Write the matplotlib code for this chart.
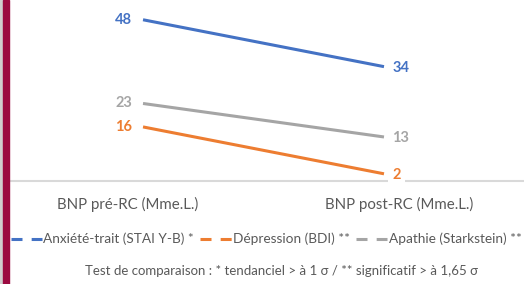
import matplotlib
matplotlib.use("Agg")
import matplotlib.pyplot as plt
from matplotlib.lines import Line2D
from matplotlib.patches import Rectangle
import matplotlib.transforms as mtransforms

plt.rcParams['font.family'] = ['Lato', 'DejaVu Sans']

# categories and series values
categories = ["BNP pré-RC (Mme.L.)", "BNP post-RC (Mme.L.)"]
anxiete = [48, 34]
depression = [16, 2]
apathie = [23, 13]
series_names = ["Anxiété-trait (STAI Y-B) *", "Dépression (BDI) **", "Apathie (Starkstein) **"]
footnote = "Test de comparaison : * tendanciel > à 1 σ / ** significatif > à 1,65 σ"

BLUE = "#4472C4"
ORANGE = "#ED7D31"
GRAY = "#A5A5A5"

fig = plt.figure(figsize=(5.24, 2.84), dpi=100)

# left decoration: thin grey strip and maroon bar
fig.patches.append(Rectangle((0, 0), 3 / 524, 1, transform=fig.transFigure,
                             color="#D0CECE", zorder=0))
fig.patches.append(Rectangle((3 / 524, 0), 6 / 524, 1, transform=fig.transFigure,
                             color="#9B0A40", zorder=0))

ax = fig.add_axes([10 / 524, 1 - 180.5 / 284, 514 / 524, 180.5 / 284])
ax.set_facecolor("none")

x = [0, 1]
series = [(anxiete, BLUE), (depression, ORANGE), (apathie, GRAY)]
for vals, col in series:
    ax.plot(x, vals, color=col, lw=2.2, solid_capstyle="butt", zorder=3)
    ax.annotate(str(vals[0]), (x[0], vals[0]), xytext=(-8, 0), textcoords="offset points",
                ha="right", va="center", color=col, fontsize=10.5, fontweight="bold", zorder=4)
    ax.annotate(str(vals[1]), (x[1], vals[1]), xytext=(6, -1), textcoords="offset points",
                ha="left", va="center", color=col, fontsize=10.5, fontweight="bold", zorder=4,
                bbox=dict(boxstyle="square,pad=0.3", fc="white", ec="none"))

ax.set_xlim(-0.552, 1.581)
ax.set_ylim(0, 53.9)
ax.set_yticks([])
ax.set_xticks(x)
ax.set_xticklabels(categories, fontsize=10.8, color="#595959")
ax.tick_params(axis="x", length=0, pad=12)
# shift category labels slightly outward
for lab, dx in zip(ax.get_xticklabels(), [-15, 15]):
    lab.set_transform(lab.get_transform() + mtransforms.ScaledTranslation(dx / 100, 0, fig.dpi_scale_trans))

for side in ["left", "right", "top"]:
    ax.spines[side].set_visible(False)
ax.spines["bottom"].set_color("#D9D9D9")
ax.spines["bottom"].set_linewidth(1.5)
ax.spines["bottom"].set_zorder(1)

# legend keys drawn as two dashes, like the original
handles = [Line2D([0], [0], color=c, lw=2.2, linestyle=(0, (3.6, 3.0))) for c in [BLUE, ORANGE, GRAY]]
fig.legend(handles, series_names, loc="center", bbox_to_anchor=(0.508, 1 - 239 / 284),
           ncol=3, frameon=False, fontsize=9.8, labelcolor="#595959",
           handlelength=2.3, handletextpad=0.1, columnspacing=0.45,
           borderaxespad=0, borderpad=0)

fig.text(0.537, 1 - 271 / 284, footnote, ha="center", va="center", fontsize=9.5, color="#595959")

fig.savefig("out.png", dpi=100)
